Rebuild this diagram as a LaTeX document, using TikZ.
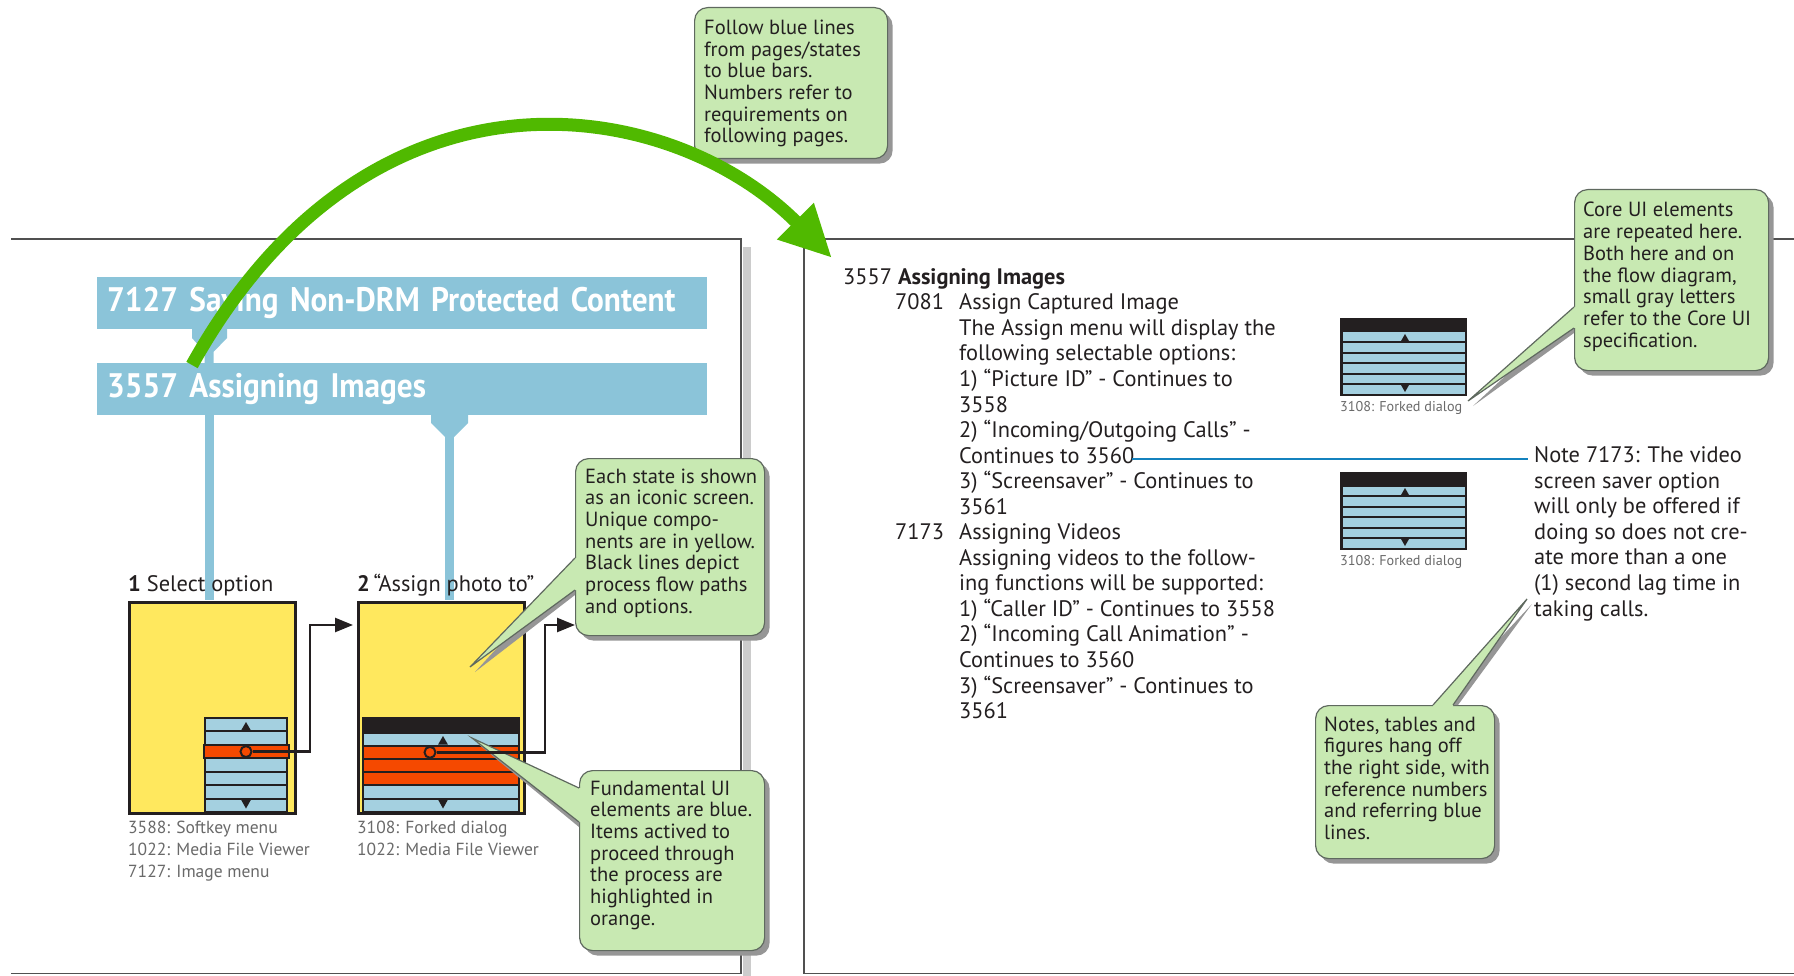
\documentclass[tikz,border=0pt]{standalone}
\usepackage{fontspec}
\setmainfont{PT Sans}
\newfontfamily\barfont[FakeStretch=0.92]{PT Sans Bold}
\usetikzlibrary{arrows.meta,calc,positioning,shadows}
\definecolor{barB}{RGB}{139,196,217}
\definecolor{rowB}{RGB}{164,208,224}
\definecolor{scrY}{RGB}{255,232,94}
\definecolor{selO}{RGB}{245,73,0}
\definecolor{ink}{RGB}{35,31,32}
\definecolor{arrG}{RGB}{80,185,0}
\definecolor{noteG}{RGB}{200,233,178}
\definecolor{noteE}{RGB}{95,105,95}
\definecolor{shadG}{RGB}{150,150,150}
\definecolor{refB}{RGB}{20,130,190}
\definecolor{capG}{RGB}{105,105,105}
\definecolor{pageL}{RGB}{80,80,80}

\begin{document}
\begin{tikzpicture}[x=1pt,y=-1pt,
  bar/.style={anchor=north west,fill=barB,text=white,minimum height=51.5,text width=590,inner xsep=10,inner ysep=0,align=left,font=\barfont\fontsize{34}{34}\selectfont},
  screen/.style={anchor=north west,minimum width=166,minimum height=211,inner sep=0,fill=scrY,draw=ink,line width=2.5},
  body/.style={anchor=base west,inner sep=0,align=left,text=ink,font=\fontsize{22.4}{25.6}\selectfont},
  capline/.style={anchor=base west,inner sep=0,align=left,text=capG,font=\fontsize{17.5}{22}\selectfont},
  tinycap/.style={anchor=base west,inner sep=0,text=capG,font=\fontsize{14.2}{15}\selectfont},
  notetxt/.style={anchor=base west,inner sep=0,align=left,text=ink,font=\fontsize{20.5}{21.7}\selectfont},
  callout/.style={anchor=north west,inner sep=0,draw=noteE,line width=1.2,fill=noteG,rounded corners=13,
    drop shadow={shadow xshift=5pt,shadow yshift=-5pt,opacity=1,fill=shadG}},
  wedgeline/.style={draw=noteE,line width=1.2},
  bluelink/.style={draw=barB,line width=9},
  flow/.style={draw=ink,line width=2.5,-{Triangle[length=18,width=14]}},
  selbox/.style={circle,draw=ink,line width=2,fill=selO,minimum size=11,inner sep=0},
  page/.style={draw=pageL,line width=1.5}]
\useasboundingbox (0,0) rectangle (1794,976);
% pages
\fill[black!20] (743,247) rectangle (751,976);
\draw[page] (11,239) -- (741,239) -- (741,973.5) -- (11,973.5);
\draw[page] (1794,239) -- (804,239) -- (804,973.5) -- (1794,973.5);
% blue bars and links
\node[bar] (barA) at (97,277) {7127 Saving Non-DRM Protected Content};
\node[bar] (barB) at (97,363) {3557 Assigning Images};
\fill[barB] (192,328) -- (227,328) -- (227,338) -- (213.5,352) -- (213.5,364) -- (204.5,364) -- (204.5,352) -- (192,338) -- cycle;
\fill[barB] (431,413) -- (468,413) -- (468,423) -- (454,437) -- (445,437) -- (431,423) -- cycle;
\node[screen] (scrA) at (128,601) {};
\node[screen] (scrB) at (357,601) {};
\coordinate (upA) at ($(scrA.north west)+(81,-1.3)$);
\coordinate (upB) at ($(scrB.north west)+(92.5,-1.3)$);
\draw[bluelink] (upA) -- (upA |- barB.south);
\draw[bluelink] (upB) -- ($(upB |- barB.south)+(0,20)$);
% screen 1: softkey menu
\fill[ink] (204,717) rectangle (288,813);
\foreach \k in {0,...,6} \fill[rowB] (206,719+\k*13.43) rectangle ++(80,11.43);
\draw[ink,line width=2,fill=selO] (203.5,745.3) rectangle (288.5,757.9);
\fill[ink] (241,730.6) -- (251,730.6) -- (246,722) -- cycle;
\fill[ink] (241,799.6) -- (251,799.6) -- (246,808.5) -- cycle;
\node[selbox] (selA) at (246,751.6) {};
% screen 2: forked dialog
\fill[ink] (362,717) rectangle (520,813);
\foreach \k/\c in {0/rowB,1/selO,2/selO,3/selO,4/rowB,5/rowB} \fill[\c] (364,733.5+\k*13.2) rectangle ++(154,11.2);
\fill[ink] (438,744.7) -- (448,744.7) -- (443,736) -- cycle;
\fill[ink] (438,799.5) -- (448,799.5) -- (443,808.5) -- cycle;
\node[selbox] (selB) at (430,752.3) {};
% titles and captions (base = last line)
\node[body] (ttlA) at (128,591) {\textbf{1} Select option};
\node[body] (ttlB) at (357,591) {\textbf{2}\,“Assign photo to”};
\node[capline] (capA) at (128,877) {3588: Softkey menu\\1022: Media File Viewer\\7127: Image menu};
\node[capline] (capB) at (357,855) {3108: Forked dialog\\1022: Media File Viewer};
% right page text
\node[body] (hd) at (843,284.5) {3557 \textbf{Assigning Images}};
\node[body] (n7081) at (895,309.6) {7081};
\node[body] (t7081) at (959,437.6) {Assign Captured Image\\The Assign menu will display the\\following selectable options:\\1) “Picture ID” - Continues to\\3558\\2) “Incoming/Outgoing Calls” -};
\node[body] (t3560) at (959,463.2) {Continues to 3560};
\node[body] (t3561) at (959,514.4) {3) “Screensaver” - Continues to\\3561};
\node[body] (n7173) at (895,539.4) {7173};
\node[body] (t7173) at (959,718.6) {Assigning Videos\\Assigning videos to the follow-\\ing functions will be supported:\\1) “Caller ID” - Continues to 3558\\2) “Incoming Call Animation” -\\Continues to 3560\\3) “Screensaver” - Continues to\\3561};
\node[body] (note) at (1534,616.1) {Note 7173: The video\\screen saver option\\will only be offered if\\doing so does not cre-\\ate more than a one\\(1) second lag time in\\taking calls.};
\draw[refB,line width=1.6] ($(t3560.base east)+(-3,-4.5)$) -- ($(note.west |- t3560.base)+(-6,-4.5)$);
% core UI icons
\foreach \yy in {318,472} {
  \fill[ink] (1340,\yy) rectangle ++(127,77.5);
  \foreach \k in {0,...,5} \fill[rowB] (1342.5,\yy+14.5+\k*10.5) rectangle ++(122,8.5);
  \fill[ink] (1401,\yy+23) -- (1409,\yy+23) -- (1405,\yy+16) -- cycle;
  \fill[ink] (1401,\yy+67) -- (1409,\yy+67) -- (1405,\yy+74) -- cycle;
}
\node[tinycap] (capC) at (1340,411) {3108: Forked dialog};
\node[tinycap] (capD) at (1340,565) {3108: Forked dialog};
% callouts
\node[callout,minimum width=193,minimum height=151] (calC) at (694,7) {};
\node[callout,minimum width=189,minimum height=177] (calA) at (575,458) {};
\node[callout,minimum width=185,minimum height=180] (calB) at (579,770) {};
\node[callout,minimum width=194,minimum height=181] (calD) at (1574,189) {};
\node[callout,minimum width=179,minimum height=153] (calE) at (1315,705) {};
\fill[shadG] (575,563) -- (475,672) -- (575,595) -- cycle;
\fill[shadG] (579,793) -- (477,743) -- (579,827) -- cycle;
\fill[shadG] (1574,312) -- (1473,406) -- (1574,333) -- cycle;
\fill[shadG] (1438,705) -- (1532,604) -- (1458,705) -- cycle;
\fill[noteG] (470,667) -- (575,558) -- (578,558) -- (578,590) -- (575,590) -- cycle;
\fill[noteG] (472,738) -- (579,788) -- (582,788) -- (582,822) -- (579,822) -- cycle;
\fill[noteG] (1468,401) -- (1574,307) -- (1577,307) -- (1577,328) -- (1574,328) -- cycle;
\fill[noteG] (1527,599) -- (1433,705) -- (1433,708) -- (1453,708) -- (1453,705) -- cycle;
\draw[wedgeline] (575,558) -- (470,667) -- (575,590);
\draw[wedgeline] (579,788) -- (472,738) -- (579,822);
\draw[wedgeline] (1574,307) -- (1468,401) -- (1574,328);
\draw[wedgeline] (1433,705) -- (1527,599) -- (1453,705);
\node[notetxt] (txtC) at ($(calC.north west)+(10,136)$) {Follow blue lines\\from pages/states\\to blue bars.\\Numbers refer to\\requirements on\\following pages.};
\node[notetxt] (txtA) at ($(calA.north west)+(10,155.2)$) {Each state is shown\\as an iconic screen.\\Unique compo-\\nents are in yellow.\\Black lines depict\\process flow paths\\and options.};
\node[notetxt] (txtB) at ($(calB.north west)+(11,155.2)$) {Fundamental UI\\elements are blue.\\Items actived to\\proceed through\\the process are\\highlighted in\\orange.};
\node[notetxt] (txtD) at ($(calD.north west)+(9,158.2)$) {Core UI elements\\are repeated here.\\Both here and on\\the flow diagram,\\small gray letters\\refer to the Core UI\\specification.};
\node[notetxt] (txtE) at ($(calE.north west)+(9,134.5)$) {Notes, tables and\\figures hang off\\the right side, with\\reference numbers\\and referring blue\\lines.};
% process flow
\coordinate (inB) at ($(scrB.north west)+(-4,24)$);
\draw[flow] (selA.east) -- (310,751.6) |- (inB);
\draw[flow] (selB.east) -- (545,752.3) |- (calA.west |- inB);
% big green arrow
\coordinate (gTail) at ($(barB.north west)+(95,2)$);
\coordinate (gHead) at (832,258);
\draw[arrG,line width=13,-{Triangle[length=52,width=48]}] (gTail) .. controls (370,45) and (670,95) .. (gHead);
\end{tikzpicture}
\end{document}
